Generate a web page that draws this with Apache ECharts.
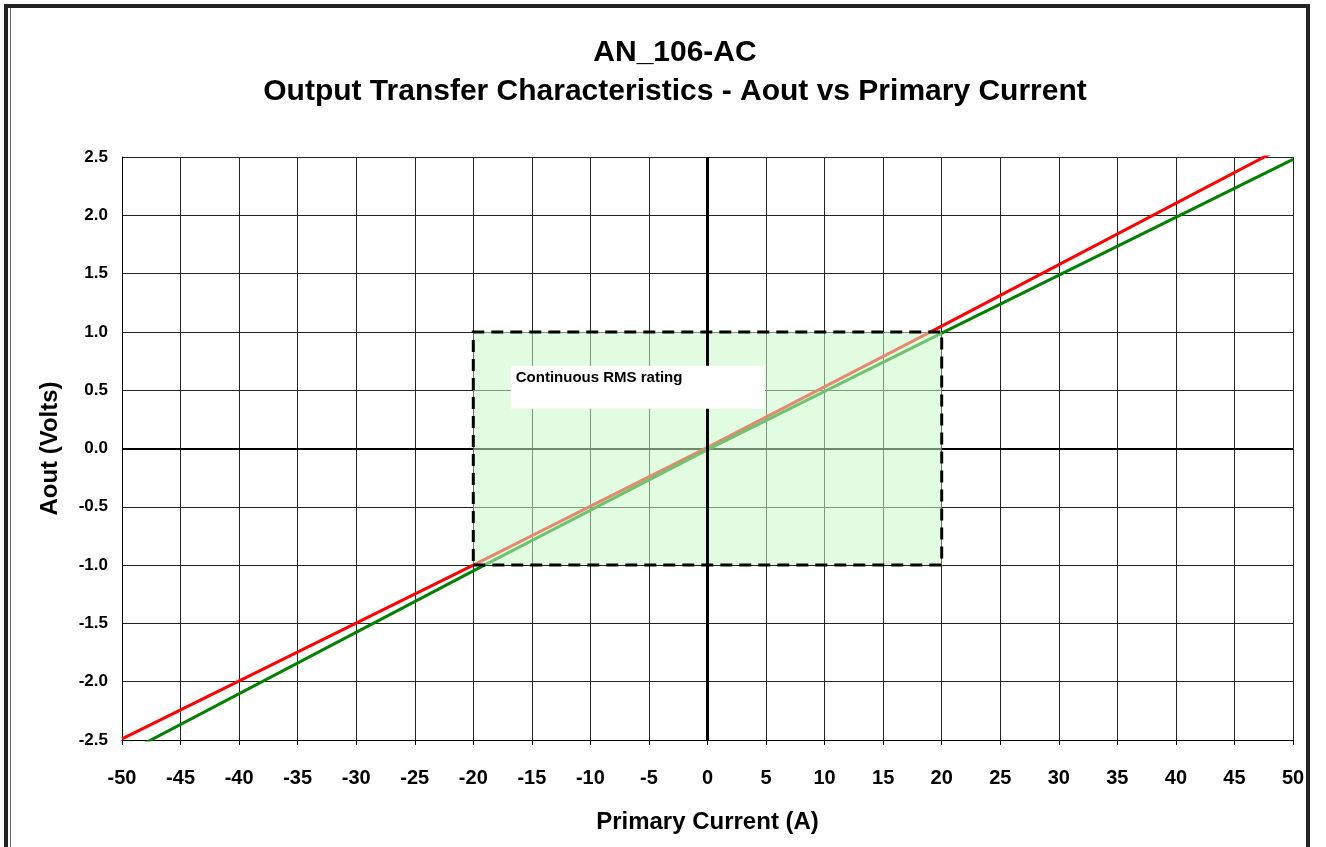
<!DOCTYPE html>
<html>
<head>
<meta charset="utf-8">
<title>AN_106-AC</title>
<script src="https://cdn.jsdelivr.net/npm/echarts@6/dist/echarts.min.js"></script>
<style>
html, body { margin: 0; padding: 0; background: #fff; overflow: hidden; }
#frame { position: absolute; left: 4px; top: 4px; width: 1298px; height: 900px; border: 4px solid #222; border-bottom: none; }
#inner { position: absolute; left: 10px; top: 8px; width: 1293px; height: 900px; border-left: 1px solid #666; }
#main { position: absolute; left: 0; top: 0; width: 1326px; height: 847px; }
</style>
</head>
<body>
<div id="frame"></div>
<div id="inner"></div>
<div id="main"></div>
<script>
// values
const redCurrent = [-50, -20, 0, 20, 50];
const redAout = [-2.49, -1.0, 0.01, 1.05, 2.63];
const greenCurrent = [-50, -20, 0, 20, 50];
const greenAout = [-2.63, -1.05, -0.01, 0.99, 2.48];
const ratingCurrent = [-20, 20];
const ratingAout = [-1, 1];
const noteText = 'Continuous RMS rating';

const font = 'Liberation Sans, Arial, sans-serif';
const pairs = (xs, ys) => xs.map((x, i) => [x, ys[i]]);

const myChart = echarts.init(document.getElementById('main'));
const option = {
  animation: false,
  backgroundColor: 'transparent',
  title: {
    text: 'AN_106-AC\nOutput Transfer Characteristics - Aout vs Primary Current',
    left: 670,
    top: 28,
    textAlign: 'center',
    textStyle: { fontFamily: font, fontSize: 30, fontWeight: 'bold', color: '#000', lineHeight: 39 }
  },
  grid: { left: 122, right: 33, top: 157, bottom: 107 },
  xAxis: {
    type: 'value',
    min: -50, max: 50, interval: 5,
    name: 'Primary Current (A)',
    nameLocation: 'middle',
    nameGap: 70,
    nameTextStyle: { fontFamily: font, fontSize: 24, fontWeight: 'bold', color: '#000' },
    axisLine: { onZero: false, lineStyle: { color: '#000', width: 1 } },
    axisTick: { show: true, length: 5, lineStyle: { color: '#000' } },
    axisLabel: { fontFamily: font, fontSize: 20, fontWeight: 'bold', color: '#000', margin: 28 },
    splitLine: { show: true, lineStyle: { color: '#222', width: 1 } }
  },
  yAxis: {
    type: 'value',
    min: -2.5, max: 2.5, interval: 0.5,
    name: 'Aout (Volts)',
    nameLocation: 'middle',
    nameGap: 60,
    nameTextStyle: { fontFamily: font, fontSize: 24, fontWeight: 'bold', color: '#000' },
    axisLine: { show: true, onZero: false, lineStyle: { color: '#000', width: 1 } },
    axisTick: { show: false },
    axisLabel: { fontFamily: font, fontSize: 17, fontWeight: 'bold', color: '#000', margin: 14,
      formatter: v => v.toFixed(1) },
    splitLine: { show: true, lineStyle: { color: '#222', width: 1 } }
  },
  series: [
    {
      // horizontal zero line, sits under the shaded box
      type: 'line', z: 1, data: [[0, 0]], symbolSize: 0, silent: true,
      markLine: {
        z: 1, silent: true, symbol: ['none', 'none'], label: { show: false },
        lineStyle: { color: '#000', width: 2, type: 'solid' },
        data: [{ yAxis: 0 }]
      }
    },
    {
      name: 'red', type: 'line', z: 2, showSymbol: false,
      data: pairs(redCurrent, redAout),
      lineStyle: { color: '#ff0000', width: 3 }
    },
    {
      name: 'green', type: 'line', z: 2, showSymbol: false,
      data: pairs(greenCurrent, greenAout),
      lineStyle: { color: '#008000', width: 3 }
    },
    {
      // continuous rating box, drawn over the lines
      type: 'line', z: 3, data: [[0, 0]], symbolSize: 0, silent: true,
      markArea: {
        z: 3, silent: true,
        itemStyle: { color: 'rgba(202,250,202,0.55)', borderColor: '#000', borderWidth: 3, borderType: [12, 7] },
        data: [[{ xAxis: ratingCurrent[0], yAxis: ratingAout[0] }, { xAxis: ratingCurrent[1], yAxis: ratingAout[1] }]]
      }
    },
    {
      // vertical zero line on top
      type: 'line', z: 4, data: [[0, 0]], symbolSize: 0, silent: true,
      markLine: {
        z: 4, silent: true, symbol: ['none', 'none'], label: { show: false },
        lineStyle: { color: '#000', width: 3, type: 'solid' },
        data: [{ xAxis: 0 }]
      }
    },
    {
      // text box
      type: 'line', z: 5, data: [[0, 0]], symbolSize: 0, silent: true,
      markArea: {
        z: 5, silent: true,
        itemStyle: { color: '#fff' },
        label: { show: true, position: 'insideTopLeft', distance: 5, formatter: noteText,
          fontFamily: font, fontSize: 15, fontWeight: 'bold', color: '#000' },
        data: [[{ xAxis: -16.8, yAxis: 0.71 }, { xAxis: 4.9, yAxis: 0.34 }]]
      }
    }
  ]
};
myChart.setOption(option);
</script>
</body>
</html>
